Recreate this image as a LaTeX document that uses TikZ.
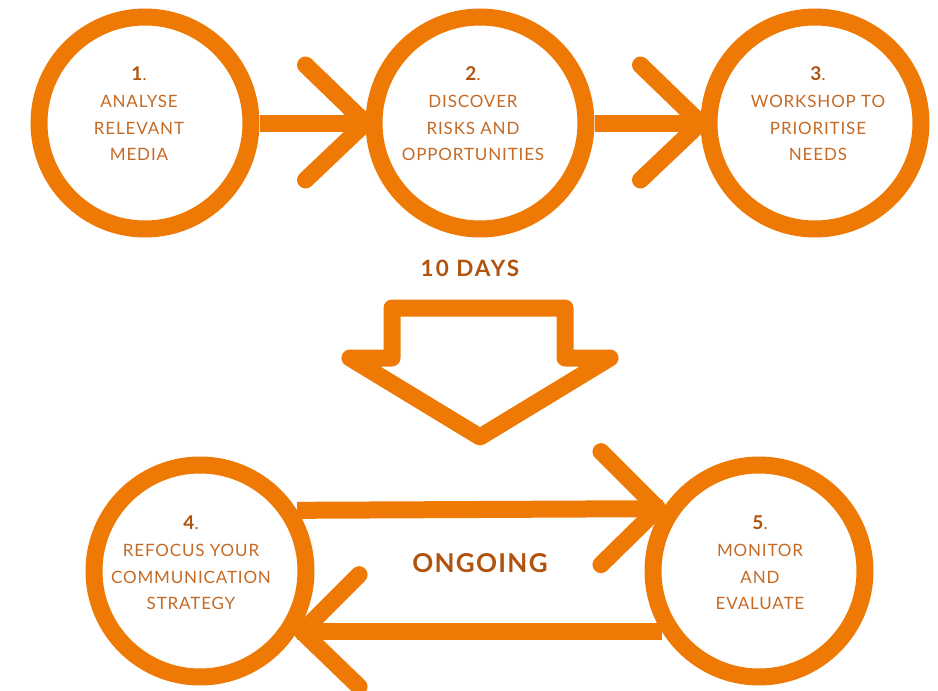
\documentclass[tikz,border=0pt]{standalone}
\usepackage{fontspec}
\setmainfont{Lato}
\newfontfamily\lblfont[LetterSpace=5]{Lato}
\newfontfamily\bigfont[LetterSpace=9]{Lato}
\newfontfamily\ongfont[LetterSpace=5]{Lato}
\usetikzlibrary{calc}
\definecolor{orng}{HTML}{EE7A05}
\definecolor{numc}{HTML}{B0530F}
\definecolor{txtc}{HTML}{C46A25}
\tikzset{
  circ/.style={circle, draw=orng, line width=17pt, minimum size=212pt, inner sep=0pt},
  lbl/.style={align=center, text=txtc, font=\lblfont\fontsize{17}{26.7}\selectfont, inner sep=0pt},
  bar/.style={draw=orng, line width=17pt},
  chev/.style={draw=orng, line width=17pt, line cap=round, line join=round},
  big/.style={text=numc, font=\bigfont\bfseries\fontsize{22.5}{26}\selectfont},
}
\newcommand{\num}[1]{{\color{numc}\bfseries\fontsize{19}{26.7}\selectfont #1}{\color{numc}.}}
\begin{document}
\begin{tikzpicture}[x=1pt,y=-1pt]
\useasboundingbox (0,0) rectangle (938,691);
% top row circles
\node[circ] (c1) at (145,123) {};
\node[circ] (c2) at (480,123) {};
\node[circ] (c3) at (815,123) {};
% bottom row circles
\node[circ] (c4) at (200,571) {};
\node[circ] (c5) at (759,571) {};
% top arrows
\draw[bar] (c1.east) -- (c2.west);
\draw[chev] ($(c2.west)+(-60,-58)$) -- (c2.west) -- ($(c2.west)+(-60,57)$);
\draw[bar] (c2.east) -- (c3.west);
\draw[chev] ($(c3.west)+(-60,-58)$) -- (c3.west) -- ($(c3.west)+(-60,57)$);
% bottom arrows
\coordinate (a4) at (c4.32.5);
\coordinate (a5) at (c5.147.5);
\coordinate (b4) at (c4.-32);
\coordinate (b5) at (c5.212);
\draw[bar] (a4) -- (a5);
\coordinate (tipr) at ($(a5)+(-5,0)$);
\draw[chev] ($(tipr)+(-57,-57)$) -- (tipr) -- ($(tipr)+(-57,56)$);
\draw[bar] (b5) -- (b4);
\coordinate (tipl) at ($(b4)+(5,0)$);
\draw[chev] ($(tipl)+(57,-57)$) -- (tipl) -- ($(tipl)+(57,55)$);
% big down arrow
\draw[orng, line width=17pt, line join=round]
  (392,308) -- (565,308) -- (565,358) -- (610,358) -- (480,437) -- (350,358) -- (392,358) -- cycle;
% labels
\node[big] (days) at (470,268) {10 DAYS};
\node[big, font=\ongfont\bfseries\fontsize{26}{30}\selectfont] (ongoing) at (480,563) {ONGOING};
\node[lbl] (t1) at (139,114) {\num{1}\\ANALYSE\\RELEVANT\\MEDIA};
\node[lbl] (t2) at (473,114) {\num{2}\\DISCOVER\\RISKS AND\\OPPORTUNITIES};
\node[lbl] (t3) at (818,114) {\num{3}\\WORKSHOP TO\\PRIORITISE\\NEEDS};
\node[lbl] (t4) at (191,563) {\num{4}\\REFOCUS YOUR\\COMMUNICATION\\STRATEGY};
\node[lbl] (t5) at (760,563) {\num{5}\\MONITOR\\AND\\EVALUATE};
\end{tikzpicture}
\end{document}
